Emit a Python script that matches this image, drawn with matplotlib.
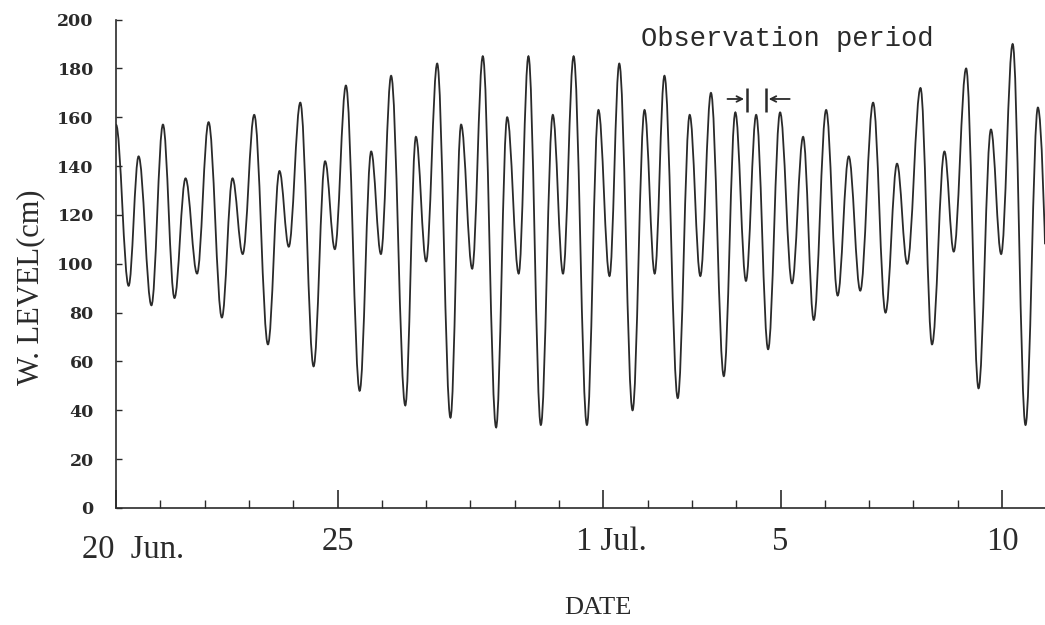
import matplotlib.pyplot as plt
from matplotlib.path import Path
from matplotlib.patches import PathPatch
from matplotlib.transforms import ScaledTranslation

# highs and lows of the tide record: days after 20 Jun 00:00, level in cm
ext_day = [0.00, 0.285, 0.51, 0.80, 1.06, 1.32, 1.57, 1.83, 2.09, 2.39,
           2.63, 2.86, 3.12, 3.43, 3.69, 3.90, 4.16, 4.46, 4.72, 4.94,
           5.19, 5.50, 5.76, 5.98, 6.21, 6.53, 6.77, 7.00, 7.25, 7.55,
           7.79, 8.04, 8.28, 8.58, 8.83, 9.09, 9.31, 9.59, 9.86, 10.09,
           10.33, 10.63, 10.89, 11.14, 11.36, 11.66, 11.93, 12.16, 12.38, 12.68,
           12.95, 13.19, 13.43, 13.72, 13.98, 14.22, 14.45, 14.72, 14.99, 15.26,
           15.51, 15.75, 16.03, 16.29, 16.54, 16.80, 17.09, 17.37, 17.63, 17.86,
           18.16, 18.42, 18.70, 18.91, 19.19, 19.47, 19.75, 19.98, 20.24, 20.53,
           20.81]
ext_level = [157, 91, 144, 83, 157, 86, 135, 96, 158, 78,
             135, 104, 161, 67, 138, 107, 166, 58, 142, 106,
             173, 48, 146, 104, 177, 42, 152, 101, 182, 37,
             157, 98, 185, 33, 160, 96, 185, 34, 161, 96,
             185, 34, 163, 95, 182, 40, 163, 96, 177, 45,
             161, 95, 170, 54, 162, 93, 161, 65, 162, 92,
             152, 77, 163, 87, 144, 89, 166, 80, 141, 100,
             172, 67, 146, 105, 180, 49, 155, 104, 190, 34,
             164]
# where the record runs off the right edge
end_day = 20.97
end_level = 108

tick_days = [0, 5, 11, 15, 20]
tick_labels = ['20  Jun.', '25', '1 Jul.', '5', '10']
day_ticks = list(range(0, 21))
level_ticks = list(range(0, 201, 20))

obs_start = 14.24
obs_end = 14.67

ink = '#2a2a2a'

fig = plt.figure(figsize=(10.45, 6.25), dpi=100)
ax = fig.add_axes([0.111, 0.1872, 0.889, 0.7814])

# smooth curve through the extrema, flat at every high and low
verts = [(ext_day[0], ext_level[0])]
codes = [Path.MOVETO]
for i in range(1, len(ext_day)):
    t0, v0 = ext_day[i - 1], ext_level[i - 1]
    t1, v1 = ext_day[i], ext_level[i]
    k = 0.364 * (t1 - t0)
    verts += [(t0 + k, v0), (t1 - k, v1), (t1, v1)]
    codes += [Path.CURVE4] * 3
t0, v0 = ext_day[-1], ext_level[-1]
k = 0.5 * (end_day - t0)
verts += [(t0 + k, v0), (end_day, end_level), (end_day, end_level)]
codes += [Path.CURVE4] * 3
ax.add_patch(PathPatch(Path(verts, codes), fill=False, lw=1.3, ec=ink))

ax.set_xlim(0, end_day)
ax.set_ylim(0, 200)
for s in ['top', 'right']:
    ax.spines[s].set_visible(False)
for s in ['left', 'bottom']:
    ax.spines[s].set_color(ink)
    ax.spines[s].set_linewidth(1.2)

ax.set_yticks(level_ticks)
ax.set_yticklabels([str(v) for v in level_ticks], family='DejaVu Serif',
                   fontweight='bold', fontsize=12.5, color='#333333')
ax.tick_params(axis='y', direction='in', length=4, width=1, pad=16, colors=ink)

ax.set_xticks(tick_days)
ax.set_xticklabels(tick_labels, family='Liberation Serif', fontsize=23.5, color=ink)
ax.set_xticks(day_ticks, minor=True)
ax.tick_params(axis='x', which='major', direction='in', length=13, width=1.2,
               pad=13, colors=ink)
ax.tick_params(axis='x', which='minor', direction='in', length=5.5, width=1, colors=ink)

# the month labels sit a little right of their ticks
xlabs = ax.get_xticklabels()
xlabs[0].set_transform(xlabs[0].get_transform()
                       + ScaledTranslation(12 / 72, -6 / 72, fig.dpi_scale_trans))
xlabs[2].set_transform(xlabs[2].get_transform()
                       + ScaledTranslation(6 / 72, 0, fig.dpi_scale_trans))

# observation period marker
ax.vlines([obs_start, obs_end], 162, 172, color=ink, lw=1.8)
ax.annotate('', xy=(obs_start, 167.5), xytext=(obs_start - 0.5, 167.5),
            arrowprops=dict(arrowstyle='->', lw=1.3, color=ink))
ax.annotate('', xy=(obs_end, 167.5), xytext=(obs_end + 0.6, 167.5),
            arrowprops=dict(arrowstyle='->', lw=1.3, color=ink))
ax.text(15.16, 192, 'Observation period', family='Liberation Mono',
        fontsize=19.5, ha='center', va='center', color=ink)

fig.text(0.029, 0.541, 'W. LEVEL(cm)', rotation=90, family='Liberation Serif',
         fontsize=22, ha='center', va='center', color=ink)
fig.text(0.572, 0.027, 'DATE', family='Liberation Serif', fontsize=19,
         ha='center', va='center', color=ink)

fig.savefig('out.png', dpi=100)
